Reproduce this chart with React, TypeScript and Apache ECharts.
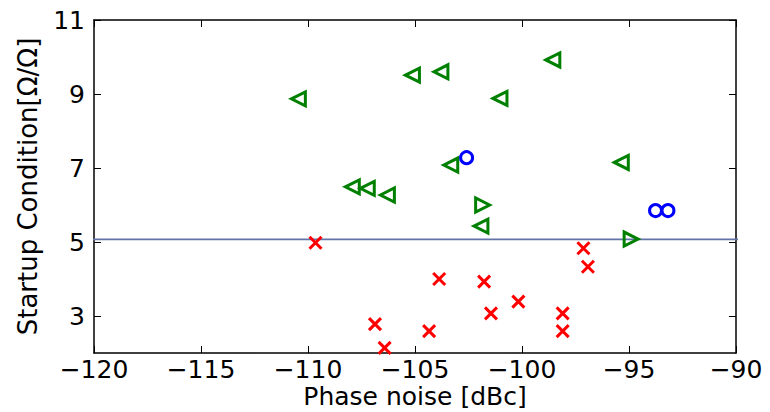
import React, { useEffect, useRef } from "react";
import * as echarts from "echarts";

const leftTriX = [-110.45, -105.12, -103.79, -98.56, -101.03, -103.33, -95.36, -107.93, -107.23, -106.29, -101.92];
const leftTriY = [8.87, 9.51, 9.6, 9.92, 8.88, 7.08, 7.15, 6.49, 6.45, 6.27, 5.43];
const rightTriX = [-101.84, -94.9];
const rightTriY = [6.0, 5.08];
const circleX = [-102.59, -93.76, -93.18];
const circleY = [7.28, 5.85, 5.85];
const crossX = [-109.65, -106.87, -106.42, -104.34, -103.87, -101.77, -101.45, -100.17, -98.1, -98.1, -97.13, -96.92];
const crossY = [4.98, 2.78, 2.14, 2.59, 4.0, 3.93, 3.07, 3.39, 3.07, 2.59, 4.83, 4.33];
const thresholdY = 5.07;
const thresholdX = [-120.3, -89.75];
const yTicks = [3, 5, 7, 9, 11];

const pair = (xs: number[], ys: number[]) => xs.map((x, i) => [x, ys[i]]);
const FONT = "DejaVu Sans";
const minus = (v: number) => String(v).replace("-", "\u2212");

export default function App() {
  const ref = useRef<HTMLDivElement>(null);
  useEffect(() => {
    document.body.style.margin = "0";
    const chart = echarts.init(ref.current!, null, { renderer: "svg" });
    const axisLine = { show: true, lineStyle: { color: "#000", width: 1.5 } };
    const tick = { show: true, inside: true, length: 7, lineStyle: { color: "#000", width: 1 } };
    const mk = (border: string) => ({ color: "rgba(0,0,0,0)", borderColor: border, borderWidth: 3, opacity: 1 });
    chart.setOption({
      animation: false,
      grid: { left: 94, right: 34, top: 20, bottom: 59, outerBoundsMode: "none", containLabel: false },
      xAxis: [
        {
          type: "value", min: -120, max: -90, interval: 5, position: "bottom",
          axisLine, axisTick: tick, splitLine: { show: false },
          axisLabel: { formatter: minus, fontFamily: FONT, fontSize: 25, color: "#000", margin: 4 },
          name: "Phase noise [dBc]", nameLocation: "middle", nameGap: 30, nameMoveOverlap: false,
          nameTextStyle: { fontFamily: FONT, fontSize: 25, lineHeight: 27, color: "#000", verticalAlign: "top" },
        },
        {
          type: "value", min: -120, max: -90, interval: 5, position: "top",
          axisLine, axisTick: tick, splitLine: { show: false }, axisLabel: { show: false },
        },
      ],
      yAxis: [
        {
          type: "value", min: 2, max: 11, position: "left",
          axisLine, splitLine: { show: false },
          axisTick: { ...tick, customValues: yTicks },
          axisLabel: { customValues: yTicks, fontFamily: FONT, fontSize: 25, color: "#000", margin: 9 },
          name: "Startup Condition[\u03A9/\u03A9]", nameLocation: "middle", nameGap: 53, nameMoveOverlap: false,
          nameTextStyle: { fontFamily: FONT, fontSize: 26, color: "#000" },
        },
        {
          type: "value", min: 2, max: 11, position: "right",
          axisLine, splitLine: { show: false },
          axisTick: { ...tick, customValues: yTicks },
          axisLabel: { show: false },
        },
      ],
      series: [
        {
          type: "line", data: thresholdX.map((x) => [x, thresholdY]), symbol: "none", clip: false,
          lineStyle: { color: "#6273a8", width: 1.8 }, z: 1,
        },
        {
          type: "scatter", data: pair(leftTriX, leftTriY),
          symbol: "path://M0,5L10,0L10,10Z", symbolSize: 14, itemStyle: mk("#008000"), z: 3,
        },
        {
          type: "scatter", data: pair(rightTriX, rightTriY),
          symbol: "path://M10,5L0,0L0,10Z", symbolSize: 14, itemStyle: mk("#008000"), z: 3,
        },
        {
          type: "scatter", data: pair(circleX, circleY),
          symbol: "circle", symbolSize: 12, itemStyle: mk("#0000ff"), z: 3,
        },
        {
          type: "scatter", data: pair(crossX, crossY),
          symbol: "path://M0,0L10,10M10,0L0,10", symbolSize: 12, itemStyle: mk("#ff0000"), z: 3,
        },
      ],
    });
    return () => chart.dispose();
  }, []);
  return <div ref={ref} style={{ width: 770, height: 412 }} />;
}
